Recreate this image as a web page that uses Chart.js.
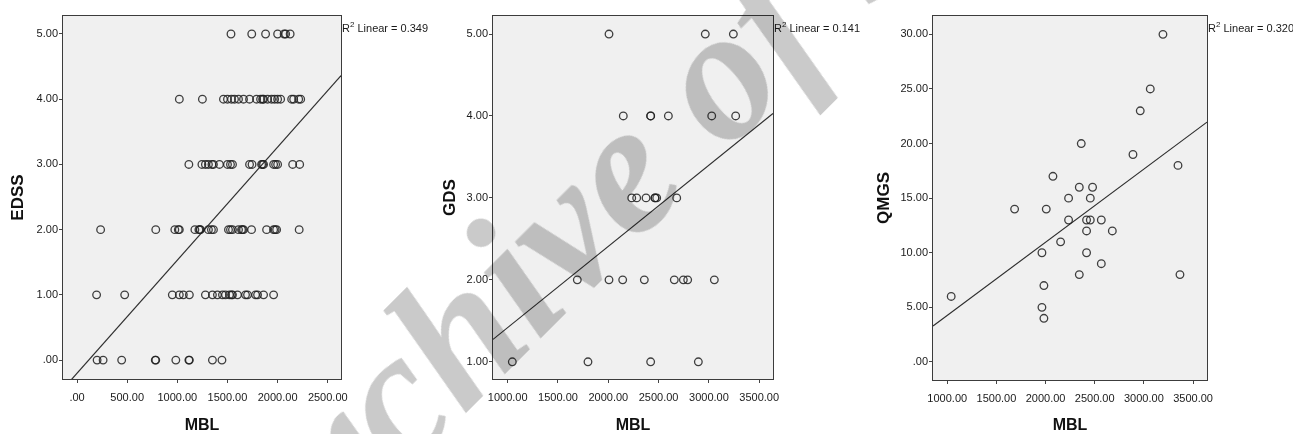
<!DOCTYPE html>
<html>
<head>
<meta charset="utf-8">
<script src="https://cdn.jsdelivr.net/npm/chart.js@4.4.1/dist/chart.umd.min.js"></script>
<style>
  body { margin: 0; background: #fff; }
  #wrap { position: relative; width: 1293px; height: 434px; overflow: hidden; }
  #wrap canvas { position: absolute; top: 0; }
  #mark {
    position: absolute; left: 633px; top: 157px;
    transform: translate(-50%, -50%) rotate(-45deg);
    font: italic bold 188px 'Liberation Serif', serif;
    line-height: 1; white-space: nowrap;
    color: #cacaca; mix-blend-mode: multiply; pointer-events: none;
  }
</style>
</head>
<body>
<div id="wrap">
  <canvas id="edssChart" width="430" height="434" style="left:0"></canvas>
  <canvas id="gdsChart" width="430" height="434" style="left:430px"></canvas>
  <canvas id="qmgsChart" width="433" height="434" style="left:860px"></canvas>
  <div id="mark">Archive of SID</div>
</div>
<script>
// EDSS 점수별 MBL 값
const edssLevels = [5, 4, 3, 2, 1, 0];
const edssMblByLevel = [
    [1535, 1742, 1880, 2000, 2065, 2080, 2125],
    [1020, 1250, 1460, 1500, 1540, 1570, 1610, 1660, 1720, 1790, 1830, 1850, 1860, 1900, 1940, 1970, 2000, 2030, 2140, 2160, 2210, 2230],
    [1115, 1245, 1280, 1310, 1345, 1360, 1420, 1500, 1530, 1550, 1720, 1745, 1840, 1850, 1860, 1960, 1980, 2000, 2150, 2220],
    [235, 785, 975, 1010, 1020, 1175, 1215, 1225, 1230, 1310, 1340, 1360, 1510, 1530, 1550, 1610, 1640, 1650, 1660, 1740, 1890, 1960, 1975, 1990, 2215],
    [195, 475, 950, 1020, 1060, 1120, 1280, 1350, 1400, 1450, 1480, 1520, 1540, 1550, 1600, 1680, 1700, 1780, 1800, 1860, 1960],
    [200, 260, 445, 780, 785, 985, 1115, 1120, 1350, 1445]
];

// GDS 점수별 MBL 값
const gdsLevels = [5, 4, 3, 2, 1];
const gdsMblByLevel = [
    [2007, 2964, 3243],
    [2149, 2421, 2421, 2597, 3028, 3266],
    [2233, 2282, 2375, 2464, 2464, 2481, 2680],
    [1692, 2007, 2143, 2358, 2656, 2746, 2789, 3054],
    [1046, 1798, 2421, 2895]
];

// QMGS - MBL 쌍
const qmgsMbl = [1040, 1685, 1963, 1983, 1983, 1963, 2007, 2075, 2153, 2234, 2234, 2343, 2343, 2363, 2417,
    2455, 2417, 2417, 2455, 2478, 2567, 2567, 2679, 2889, 2963, 3065, 3194, 3347, 3367];
const qmgsScore = [6, 14, 5, 4, 7, 10, 14, 17, 11, 15, 13, 16, 8, 20, 13,
    13, 12, 10, 15, 16, 13, 9, 12, 19, 23, 25, 30, 18, 8];

// 축 눈금
const edssXTicks = [0, 500, 1000, 1500, 2000, 2500];
const edssYTicks = [0, 1, 2, 3, 4, 5];
const gdsXTicks = [1000, 1500, 2000, 2500, 3000, 3500];
const gdsYTicks = [1, 2, 3, 4, 5];
const qmgsXTicks = [1000, 1500, 2000, 2500, 3000, 3500];
const qmgsYTicks = [0, 5, 10, 15, 20, 25, 30];

// 축 범위
const edssXRange = [-140, 2632], edssYRange = [-0.29, 5.276];
const gdsXRange = [854, 3637], gdsYRange = [0.79, 5.22];
const qmgsXRange = [855, 3642], qmgsYRange = [-1.65, 31.68];

const r2Labels = ['0.349', '0.141', '0.320'];

Chart.defaults.font.family = "'Liberation Sans', Arial, sans-serif";
Chart.defaults.font.size = 11;
Chart.defaults.color = '#1a1a1a';

function fmt(v) {
    return v === 0 ? '.00' : v.toFixed(2);
}

function toPoints(levels, byLevel) {
    const pts = [];
    levels.forEach((lv, i) => byLevel[i].forEach(x => pts.push({ x, y: lv })));
    return pts;
}

// 최소제곱 직선
function fitLine(pts, xRange) {
    const n = pts.length;
    const mx = pts.reduce((s, p) => s + p.x, 0) / n;
    const my = pts.reduce((s, p) => s + p.y, 0) / n;
    let sxy = 0, sxx = 0;
    pts.forEach(p => { sxy += (p.x - mx) * (p.y - my); sxx += (p.x - mx) ** 2; });
    const b = sxy / sxx, a = my - b * mx;
    return xRange.map(x => ({ x, y: a + b * x }));
}

const boxPlugin = {
    id: 'box',
    beforeDraw(chart) {
        const { ctx, chartArea: a } = chart;
        ctx.save();
        ctx.fillStyle = '#f0f0f0';
        ctx.fillRect(a.left, a.top, a.right - a.left, a.bottom - a.top);
        ctx.restore();
    },
    afterDraw(chart, args, opts) {
        const { ctx, chartArea: a } = chart;
        ctx.save();
        ctx.strokeStyle = '#3c3c3c';
        ctx.lineWidth = 1;
        ctx.strokeRect(Math.round(a.left) - 0.5, Math.round(a.top) - 0.5,
            Math.round(a.right - a.left) + 1, Math.round(a.bottom - a.top) + 1);
        // R² 라벨 (위첨자 2)
        ctx.fillStyle = '#1a1a1a';
        ctx.textBaseline = 'alphabetic';
        let x = a.right + 1;
        ctx.font = "11px 'Liberation Sans', Arial, sans-serif";
        ctx.fillText('R', x, 32);
        x += ctx.measureText('R').width;
        ctx.font = "8px 'Liberation Sans', Arial, sans-serif";
        ctx.fillText('2', x, 27);
        x += ctx.measureText('2').width;
        ctx.font = "11px 'Liberation Sans', Arial, sans-serif";
        ctx.fillText(' Linear = ' + opts.r2, x, 32);
        ctx.restore();
    }
};

function renderScatter(canvasId, cfg) {
    const pts = cfg.points;
    const line = fitLine(pts, cfg.xRange);
    new Chart(document.getElementById(canvasId), {
        type: 'scatter',
        data: {
            datasets: [
                {
                    data: pts,
                    pointRadius: 3.8,
                    pointBorderWidth: 1.3,
                    pointBorderColor: 'rgba(30,30,30,0.85)',
                    pointBackgroundColor: 'rgba(0,0,0,0)'
                },
                {
                    type: 'line',
                    data: line,
                    borderColor: '#2e2e2e',
                    borderWidth: 1.2,
                    pointRadius: 0
                }
            ]
        },
        options: {
            responsive: false,
            animation: false,
            layout: { padding: { left: 0, top: 16, right: cfg.padRight, bottom: 0 } },
            scales: {
                x: {
                    min: cfg.xRange[0], max: cfg.xRange[1],
                    afterBuildTicks: s => { s.ticks = cfg.xTicks.map(v => ({ value: v })); },
                    afterFit: s => { s.height = cfg.xHeight; },
                    grid: { drawOnChartArea: false, tickLength: 4, tickColor: '#444' },
                    border: { display: false },
                    ticks: { padding: 8, autoSkip: false, maxRotation: 0, callback: fmt },
                    title: { display: true, text: 'MBL', font: { size: 16, weight: 'bold', lineHeight: 1 }, color: '#111', padding: { top: 0, bottom: 0 } }
                },
                y: {
                    min: cfg.yRange[0], max: cfg.yRange[1],
                    afterBuildTicks: s => { s.ticks = cfg.yTicks.map(v => ({ value: v })); },
                    afterFit: s => { s.width = cfg.yWidth; },
                    grid: { drawOnChartArea: false, tickLength: 4, tickColor: '#444' },
                    border: { display: false },
                    ticks: { padding: 1, autoSkip: false, callback: fmt },
                    title: { display: true, text: cfg.yTitle, font: { size: 17, weight: 'bold' }, color: '#111', padding: { top: cfg.yTitlePad, bottom: 0 } }
                }
            },
            plugins: {
                legend: { display: false },
                tooltip: { enabled: false },
                box: { r2: cfg.r2 }
            }
        },
        plugins: [boxPlugin]
    });
}

renderScatter('edssChart', {
    points: toPoints(edssLevels, edssMblByLevel),
    xRange: edssXRange, yRange: edssYRange, xTicks: edssXTicks, yTicks: edssYTicks,
    yTitle: 'EDSS', r2: r2Labels[0], padRight: 89, yWidth: 63, xHeight: 55, yTitlePad: 8
});

renderScatter('gdsChart', {
    points: toPoints(gdsLevels, gdsMblByLevel),
    xRange: gdsXRange, yRange: gdsYRange, xTicks: gdsXTicks, yTicks: gdsYTicks,
    yTitle: 'GDS', r2: r2Labels[1], padRight: 87, yWidth: 63, xHeight: 55, yTitlePad: 10
});

renderScatter('qmgsChart', {
    points: qmgsMbl.map((x, i) => ({ x, y: qmgsScore[i] })),
    xRange: qmgsXRange, yRange: qmgsYRange, xTicks: qmgsXTicks, yTicks: qmgsYTicks,
    yTitle: 'QMGS', r2: r2Labels[2], padRight: 86, yWidth: 73, xHeight: 54, yTitlePad: 14
});
</script>
</body>
</html>
